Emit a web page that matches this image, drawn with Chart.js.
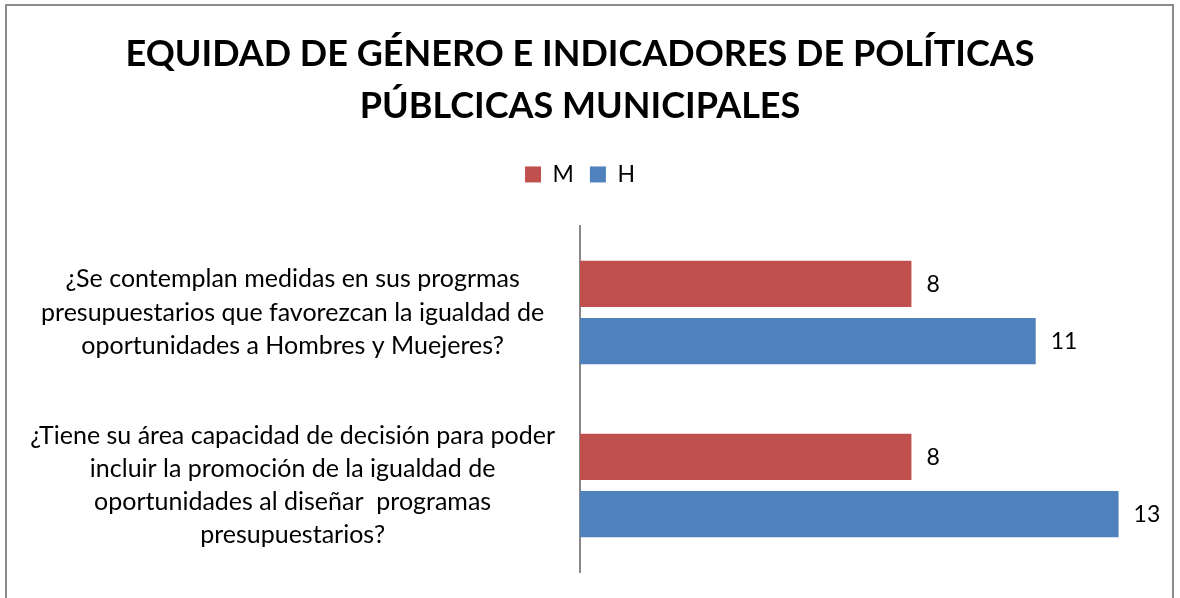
<!DOCTYPE html>
<html>
<head>
<meta charset="utf-8">
<script src="https://cdn.jsdelivr.net/npm/chart.js@4.4.1/dist/chart.umd.min.js"></script>
<style>
  html, body { margin: 0; padding: 0; background: #fff; }
  #frame { position: absolute; left: 5px; top: 4px; width: 1169px; height: 700px; border: 2px solid #8c8c8c; box-sizing: border-box; }
  #wrap { position: absolute; left: 0; top: 0; width: 1180px; height: 598px; }
</style>
</head>
<body>
<div id="frame"></div>
<div id="wrap"><canvas id="c" width="1180" height="598"></canvas></div>
<script>
const titleLines = ["EQUIDAD DE GÉNERO E INDICADORES DE POLÍTICAS", "PÚBLCICAS MUNICIPALES"];
const categories = [
  ["¿Se contemplan medidas en sus progrmas", "presupuestarios que favorezcan la igualdad de", "oportunidades a Hombres y Muejeres?"],
  ["¿Tiene su área capacidad de decisión para poder", "incluir la promoción de la igualdad de", "oportunidades al diseñar  programas", "presupuestarios?"]
];
const seriesNames = ["M", "H"];
const valuesM = [8, 8];
const valuesH = [11, 13];
const colors = ["#C0504D", "#4F81BD"];

const valueLabels = {
  id: 'valueLabels',
  afterDatasetsDraw(chart) {
    const ctx = chart.ctx;
    ctx.save();
    ctx.font = '23px Lato';
    ctx.fillStyle = '#000';
    ctx.textAlign = 'left';
    ctx.textBaseline = 'middle';
    chart.data.datasets.forEach((ds, i) => {
      chart.getDatasetMeta(i).data.forEach((el, j) => {
        ctx.fillText(String(ds.data[j]), el.x + 15, el.y + 1);
      });
    });
    ctx.restore();
  }
};

const legendSpace = {
  id: 'legendSpace',
  beforeInit(chart) {
    const origFit = chart.legend.fit;
    chart.legend.fit = function () {
      origFit.call(this);
      this.height += 30;
    };
  }
};

new Chart(document.getElementById('c'), {
  type: 'bar',
  data: {
    labels: categories,
    datasets: [
      { label: seriesNames[0], data: valuesM, backgroundColor: colors[0] },
      { label: seriesNames[1], data: valuesH, backgroundColor: colors[1] }
    ]
  },
  options: {
    indexAxis: 'y',
    responsive: false,
    animation: false,
    layout: { padding: { top: 0, bottom: 26, left: 0, right: 20 } },
    datasets: { bar: { categoryPercentage: 0.66, barPercentage: 0.81 } },
    plugins: {
      title: {
        display: true,
        text: titleLines,
        color: '#000',
        font: { family: 'Lato', size: 36, weight: 'bold', lineHeight: 1.43 },
        padding: { top: 29, bottom: 15 }
      },
      legend: {
        display: true,
        labels: {
          color: '#000',
          font: { family: 'Lato', size: 23 },
          boxWidth: 16, boxHeight: 16, padding: 16
        }
      },
      tooltip: { enabled: false }
    },
    scales: {
      x: {
        display: false,
        min: 0, max: 14
      },
      y: {
        grid: { display: false, drawTicks: false },
        border: { display: true, color: '#888888', width: 2 },
        ticks: {
          color: '#000',
          font: { family: 'Lato', size: 25, lineHeight: 1.33 },
          crossAlign: 'center',
          padding: 25
        },
        afterFit(scale) {
          scale.width = 580;
          scale.paddingTop = 0;
          scale.paddingBottom = 0;
        }
      }
    }
  },
  plugins: [valueLabels, legendSpace]
});
</script>
</body>
</html>
